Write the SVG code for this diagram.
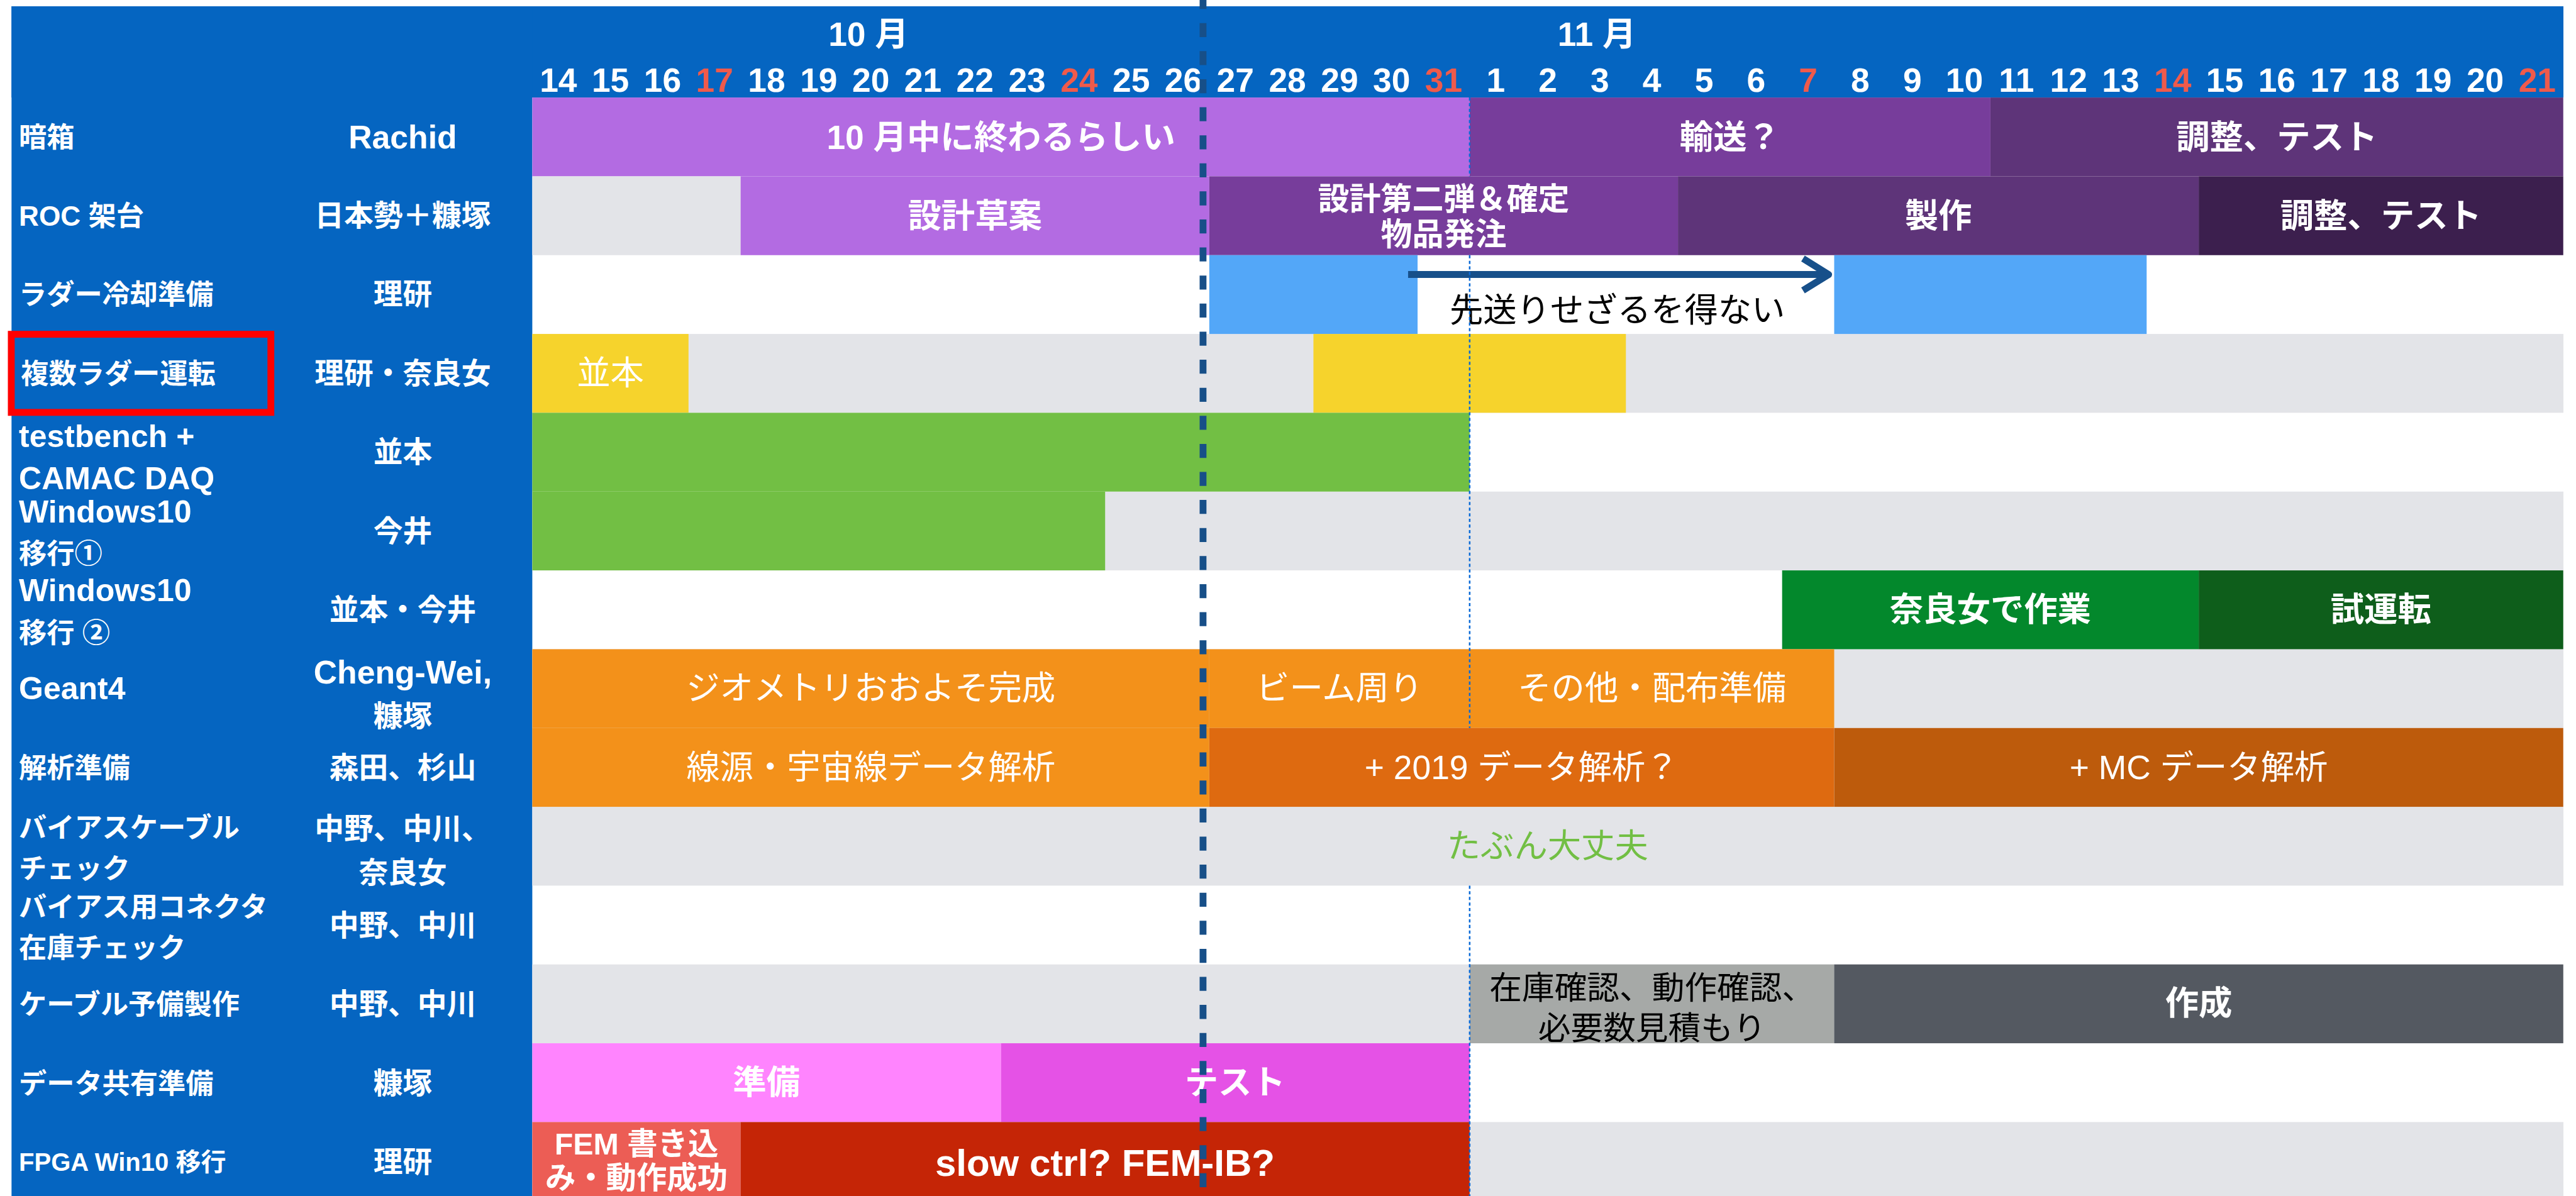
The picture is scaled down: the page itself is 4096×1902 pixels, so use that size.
<svg xmlns="http://www.w3.org/2000/svg" width="4096" height="1902" viewBox="0 0 4096 1902">
<style>
text{font-family:"Liberation Sans","Noto Sans CJK JP",sans-serif}
.hd{font-size:64px;font-weight:700;fill:#fff;text-anchor:middle}
.red{fill:#ef5a4b}
.lb{font-size:53px;font-weight:700;fill:#fff}
.lt{font-size:60px}
.pn{font-size:56px;font-weight:700;fill:#fff;text-anchor:middle}
.pl{font-size:62px}
.bt{font-size:64px;font-weight:700;fill:#fff;text-anchor:middle}
.rt{font-size:64px;font-weight:400;fill:#fff;text-anchor:middle}
.gbg{fill:#e3e4e8}
</style>
<rect x="0" y="0" width="4096" height="1902" fill="#fff"/>
<g transform="scale(0.833876)">
<g id="frame">
<rect x="22" y="12" width="4866" height="174" fill="#0565c1"/>
<rect x="22" y="12" width="993" height="2269" fill="#0565c1"/>
<rect class="gbg" x="1015" y="636.9" width="3873" height="150.3"/>
<rect class="gbg" x="1015" y="937.5" width="3873" height="150.3"/>
<rect class="gbg" x="1015" y="1238.1" width="3873" height="150.3"/>
<rect class="gbg" x="1015" y="1538.7" width="3873" height="150.3"/>
<rect class="gbg" x="1015" y="1839.3" width="3873" height="150.3"/>
<rect class="gbg" x="1015" y="2139.9" width="3873" height="141.1"/>
</g>
<g id="header">
<text class="hd" x="1656" y="88">10 月</text>
<text class="hd" x="3045" y="88">11 月</text>
<text class="hd" x="1064.7" y="175">14</text>
<text class="hd" x="1164" y="175">15</text>
<text class="hd" x="1263.3" y="175">16</text>
<text class="hd red" x="1362.6" y="175">17</text>
<text class="hd" x="1461.9" y="175">18</text>
<text class="hd" x="1561.2" y="175">19</text>
<text class="hd" x="1660.5" y="175">20</text>
<text class="hd" x="1759.8" y="175">21</text>
<text class="hd" x="1859.1" y="175">22</text>
<text class="hd" x="1958.4" y="175">23</text>
<text class="hd red" x="2057.7" y="175">24</text>
<text class="hd" x="2157" y="175">25</text>
<text class="hd" x="2256.3" y="175">26</text>
<text class="hd" x="2355.6" y="175">27</text>
<text class="hd" x="2454.9" y="175">28</text>
<text class="hd" x="2554.2" y="175">29</text>
<text class="hd" x="2653.5" y="175">30</text>
<text class="hd red" x="2752.8" y="175">31</text>
<text class="hd" x="2852.1" y="175">1</text>
<text class="hd" x="2951.4" y="175">2</text>
<text class="hd" x="3050.7" y="175">3</text>
<text class="hd" x="3150" y="175">4</text>
<text class="hd" x="3249.3" y="175">5</text>
<text class="hd" x="3348.6" y="175">6</text>
<text class="hd red" x="3447.9" y="175">7</text>
<text class="hd" x="3547.2" y="175">8</text>
<text class="hd" x="3646.5" y="175">9</text>
<text class="hd" x="3745.8" y="175">10</text>
<text class="hd" x="3845.1" y="175">11</text>
<text class="hd" x="3944.4" y="175">12</text>
<text class="hd" x="4043.7" y="175">13</text>
<text class="hd red" x="4143" y="175">14</text>
<text class="hd" x="4242.3" y="175">15</text>
<text class="hd" x="4341.6" y="175">16</text>
<text class="hd" x="4440.9" y="175">17</text>
<text class="hd" x="4540.2" y="175">18</text>
<text class="hd" x="4639.5" y="175">19</text>
<text class="hd" x="4738.8" y="175">20</text>
<text class="hd red" x="4838.1" y="175">21</text>
</g>
<g id="labels">
<text class="lb" x="36" y="281">暗箱</text>
<text class="lb" x="36" y="431">ROC 架台</text>
<text class="lb" x="36" y="581">ラダー冷却準備</text>
<text class="lb" x="40" y="731">複数ラダー運転</text>
<text class="lb lt" x="36" y="853">testbench +</text>
<text class="lb lt" x="36" y="933">CAMAC DAQ</text>
<text class="lb lt" x="36" y="996">Windows10</text>
<text class="lb" x="36" y="1075">移行①</text>
<text class="lb lt" x="36" y="1146">Windows10</text>
<text class="lb" x="36" y="1226">移行 ②</text>
<text class="lb lt" x="36" y="1334">Geant4</text>
<text class="lb" x="36" y="1484">解析準備</text>
<text class="lb" x="36" y="1597">バイアスケーブル</text>
<text class="lb" x="36" y="1675">チェック</text>
<text class="lb" x="36" y="1748">バイアス用コネクタ</text>
<text class="lb" x="36" y="1827">在庫チェック</text>
<text class="lb" x="36" y="1934">ケーブル予備製作</text>
<text class="lb" x="36" y="2085">データ共有準備</text>
<text class="lb" x="36" y="2233" style="font-size:48px">FPGA Win10 移行</text>
<rect id="highlight" x="21.5" y="637.5" width="495" height="149" fill="none" stroke="#ff0000" stroke-width="13"/>
</g>
<g id="people">
<text class="pn pl" x="768" y="283">Rachid</text>
<text class="pn" x="768" y="431">日本勢＋糠塚</text>
<text class="pn" x="768" y="581">理研</text>
<text class="pn" x="768" y="731">理研・奈良女</text>
<text class="pn" x="768" y="882">並本</text>
<text class="pn" x="768" y="1032">今井</text>
<text class="pn" x="768" y="1183">並本・今井</text>
<text class="pn pl" x="768" y="1304">Cheng-Wei,</text>
<text class="pn" x="768" y="1385">糠塚</text>
<text class="pn" x="768" y="1483">森田、杉山</text>
<text class="pn" x="768" y="1600">中野、中川、</text>
<text class="pn" x="768" y="1684">奈良女</text>
<text class="pn" x="768" y="1784">中野、中川</text>
<text class="pn" x="768" y="1934">中野、中川</text>
<text class="pn" x="768" y="2085">糠塚</text>
<text class="pn" x="768" y="2235">理研</text>
</g>
<g id="row-anbako">
<rect x="1015" y="186" width="1787.4" height="150.3" fill="#b36be2"/>
<rect x="2802.4" y="186" width="993" height="150.3" fill="#773d9b"/>
<rect x="3795.4" y="186" width="1092.3" height="150.3" fill="#5e3479"/>
<text class="bt" x="1908.7" y="284">10 月中に終わるらしい</text>
<text class="bt" x="3298.9" y="284">輸送？</text>
<text class="bt" x="4341.6" y="284">調整、テスト</text>
</g>
<g id="row-roc">
<rect class="gbg" x="1015" y="336.3" width="397.2" height="150.3"/>
<rect x="1412.2" y="336.3" width="893.7" height="150.3" fill="#b36be2"/>
<rect x="2305.9" y="336.3" width="893.7" height="150.3" fill="#773d9b"/>
<rect x="3199.6" y="336.3" width="993" height="150.3" fill="#5e3479"/>
<rect x="4192.6" y="336.3" width="695.1" height="150.3" fill="#3c1f4e"/>
<text class="bt" x="1859" y="434">設計草案</text>
<text class="bt" x="2752.8" y="401" style="font-size:60px">設計第二弾＆確定</text>
<text class="bt" x="2752.8" y="468" style="font-size:60px">物品発注</text>
<text class="bt" x="3696" y="434">製作</text>
<text class="bt" x="4540" y="434">調整、テスト</text>
</g>
<g id="row-cooling">
<rect x="2305.9" y="486.6" width="397.2" height="150.3" fill="#53a7f8"/>
<rect x="3497.5" y="486.6" width="595.8" height="150.3" fill="#53a7f8"/>
<text class="rt" x="3084" y="614" style="fill:#000">先送りせざるを得ない</text>
</g>
<g id="row-multi">
<rect x="1015" y="636.9" width="297.9" height="150.3" fill="#f6d32c"/>
<rect x="2504.5" y="636.9" width="595.8" height="150.3" fill="#f6d32c"/>
<text class="rt" x="1164" y="734">並本</text>
</g>
<g id="row-testbench">
<rect x="1015" y="787.2" width="1787.4" height="150.3" fill="#72bf44"/>
</g>
<g id="row-win1">
<rect x="1015" y="937.5" width="1092.3" height="150.3" fill="#72bf44"/>
</g>
<g id="row-win2">
<rect x="3398.2" y="1087.8" width="794.4" height="150.3" fill="#03882c"/>
<rect x="4192.6" y="1087.8" width="695.1" height="150.3" fill="#0e5e1b"/>
<text class="bt" x="3795.4" y="1185">奈良女で作業</text>
<text class="bt" x="4540" y="1185">試運転</text>
</g>
<g id="row-geant4">
<rect x="1015" y="1238.1" width="1290.9" height="150.3" fill="#f3911a"/>
<rect x="2305.9" y="1238.1" width="496.5" height="150.3" fill="#f3911a"/>
<rect x="2802.4" y="1238.1" width="695.1" height="150.3" fill="#f3911a"/>
<text class="rt" x="1660.5" y="1335">ジオメトリおおよそ完成</text>
<text class="rt" x="2554" y="1335">ビーム周り</text>
<text class="rt" x="3150" y="1335">その他・配布準備</text>
</g>
<g id="row-analysis">
<rect x="1015" y="1388.4" width="1290.9" height="150.3" fill="#f3911a"/>
<rect x="2305.9" y="1388.4" width="1191.6" height="150.3" fill="#de6a10"/>
<rect x="3497.5" y="1388.4" width="1390.2" height="150.3" fill="#bd5b0c"/>
<text class="rt" x="1660.5" y="1486">線源・宇宙線データ解析</text>
<text class="rt" x="2901.7" y="1486">+ 2019 データ解析？</text>
<text class="rt" x="4192.6" y="1486">+ MC データ解析</text>
</g>
<g id="row-biascable">
<text class="rt" x="2951" y="1636" style="fill:#72bf44">たぶん大丈夫</text>
</g>
<g id="row-spare">
<rect x="2802.4" y="1839.3" width="695.1" height="150.3" fill="#a6a9a7"/>
<rect x="3497.5" y="1839.3" width="1390.2" height="150.3" fill="#545961"/>
<text class="rt" x="3150" y="1906" style="fill:#000;font-size:62px">在庫確認、動作確認、</text>
<text class="rt" x="3150" y="1982" style="fill:#000;font-size:62px">必要数見積もり</text>
<text class="bt" x="4192.6" y="1936">作成</text>
</g>
<g id="row-datashare">
<rect x="1015" y="1989.6" width="893.7" height="150.3" fill="#ff84fe"/>
<rect x="1908.7" y="1989.6" width="893.7" height="150.3" fill="#e552e6"/>
<text class="bt" x="1461.5" y="2087">準備</text>
<text class="bt" x="2355" y="2087">テスト</text>
</g>
<g id="row-fpga">
<rect x="1015" y="2139.9" width="397.2" height="141.1" fill="#ec5d55"/>
<rect x="1412.2" y="2139.9" width="1390.2" height="141.1" fill="#c52506"/>
<text class="bt" x="1213.6" y="2202" style="font-size:58px">FEM 書き込</text>
<text class="bt" x="1213.6" y="2267" style="font-size:58px">み・動作成功</text>
<text class="bt" x="2107" y="2242" style="font-size:72px">slow ctrl? FEM-IB?</text>
</g>
<g id="connectors">
<line x1="2685" y1="523.5" x2="3482" y2="523.5" stroke="#17508a" stroke-width="13"/>
<polyline points="3438,493 3487,523.5 3438,554" fill="none" stroke="#17508a" stroke-width="13" stroke-linejoin="round"/>
<g stroke="#0a6ad6" stroke-width="3" stroke-dasharray="6 4.7" fill="none">
<line x1="2802.4" y1="186" x2="2802.4" y2="336.3"/>
<line x1="2802.4" y1="486.6" x2="2802.4" y2="1388.4"/>
<line x1="2802.4" y1="1689" x2="2802.4" y2="2281"/>
</g>
<line x1="2294" y1="0" x2="2294" y2="2265" stroke="#174f88" stroke-width="13" stroke-dasharray="26.7 26.8" stroke-dashoffset="9.5"/>
</g>
</g>
</svg>
